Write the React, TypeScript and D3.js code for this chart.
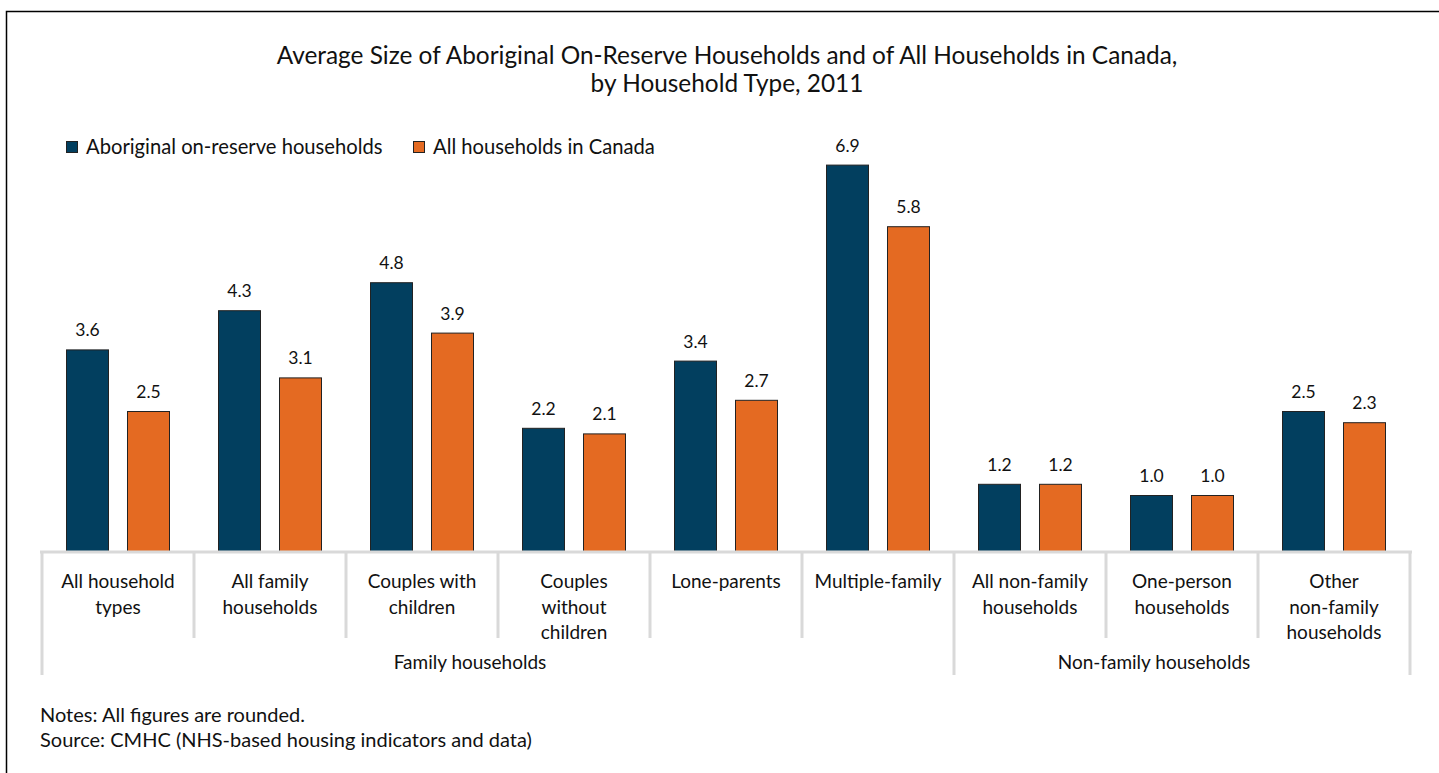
import React from "react";
import * as d3 from "d3";

const categories: string[][] = [
  ["All household", "types"],
  ["All family", "households"],
  ["Couples with", "children"],
  ["Couples", "without", "children"],
  ["Lone-parents"],
  ["Multiple-family"],
  ["All non-family", "households"],
  ["One-person", "households"],
  ["Other", "non-family", "households"],
];
const aboriginal = [3.6, 4.3, 4.8, 2.2, 3.4, 6.9, 1.2, 1.0, 2.5];
const allCanada = [2.5, 3.1, 3.9, 2.1, 2.7, 5.8, 1.2, 1.0, 2.3];
const seriesNames = ["Aboriginal on-reserve households", "All households in Canada"];
const groups = [
  { name: "Family households", start: 0, end: 6 },
  { name: "Non-family households", start: 6, end: 9 },
];
const titleLines = [
  "Average Size of Aboriginal On-Reserve Households and of All Households in Canada,",
  "by Household Type, 2011",
];
const notes = ["Notes: All figures are rounded.", "Source: CMHC (NHS-based housing indicators and data)"];

const W = 1439;
const H = 773;
const COLORS = ["#023f5f", "#e46a22"];
const FONT = "Lato, 'Open Sans', sans-serif";

export default function App() {
  const idx = categories.map((_, i) => String(i));
  const x = d3.scaleBand<string>().domain(idx).range([42, 1410]).paddingInner(0).paddingOuter(0);
  const y = d3.scaleLinear().domain([0, 8]).range([551, 103]);
  const step = x.step();
  const barW = 43;
  const gapMid = 18;
  const offsets = [step / 2 - gapMid / 2 - barW, step / 2 + gapMid / 2];
  const series = [aboriginal, allCanada];
  const axisY = 552;
  const grey = "#d9d9d9";

  return (
    <svg width={W} height={H} style={{ position: "absolute", left: 0, top: 0, background: "#fff" }} fontFamily={FONT}>
      <rect x={6.5} y={11.5} width={1500} height={1000} fill="#fff" stroke="#000" strokeWidth={1.5} />
      {titleLines.map((t, i) => (
        <text key={i} x={727} y={64 + i * 28} textAnchor="middle" fontSize={24.4} fill="#111">
          {t}
        </text>
      ))}
      {/* legend */}
      {seriesNames.map((n, i) => {
        const lx = [66, 413][i];
        return (
          <g key={n}>
            <rect x={lx + 0.5} y={141.5} width={11} height={11} fill={COLORS[i]} stroke="#222" strokeWidth={1} />
            <text x={lx + 20} y={154} fontSize={20.2} fill="#111">
              {n}
            </text>
          </g>
        );
      })}
      {/* bars */}
      {series.map((vals, s) =>
        vals.map((v, i) => {
          const bx = (x(String(i)) as number) + offsets[s];
          return (
            <g key={`${s}-${i}`}>
              <rect x={bx + 0.5} y={y(v) + 0.5} width={barW - 1} height={y(0) - y(v)} fill={COLORS[s]} stroke="#222" strokeWidth={1} />
              <text x={bx + barW / 2} y={y(v) - 13} textAnchor="middle" fontSize={17.5} fill="#111">
                {v.toFixed(1)}
              </text>
            </g>
          );
        })
      )}
      {/* category axis */}
      <line x1={40} x2={1412} y1={axisY} y2={axisY} stroke={grey} strokeWidth={3} />
      {idx.map((d, i) => {
        const isGroupEdge = groups.some((g) => g.start === i);
        const xx = x(d) as number;
        return (
          <line key={`sep${i}`} x1={xx} x2={xx} y1={axisY} y2={isGroupEdge ? 675 : 638} stroke={grey} strokeWidth={3} />
        );
      })}
      <line x1={1410} x2={1410} y1={axisY} y2={675} stroke={grey} strokeWidth={3} />
      {categories.map((lines, i) => {
        const cx = (x(String(i)) as number) + step / 2;
        return (
          <text key={`cl${i}`} x={cx} textAnchor="middle" fontSize={19} fill="#111">
            {lines.map((l, j) => (
              <tspan key={j} x={cx} y={588 + j * 25.5}>
                {l}
              </tspan>
            ))}
          </text>
        );
      })}
      {groups.map((g) => {
        const x0 = x(String(g.start)) as number;
        const x1 = (x(String(g.end - 1)) as number) + step;
        return (
          <text key={g.name} x={(x0 + x1) / 2 - 28} y={669} textAnchor="middle" fontSize={19} fill="#111">
            {g.name}
          </text>
        );
      })}
      {notes.map((n, i) => (
        <text key={i} x={40} y={722 + i * 25} fontSize={20} fill="#111">
          {n}
        </text>
      ))}
    </svg>
  );
}
